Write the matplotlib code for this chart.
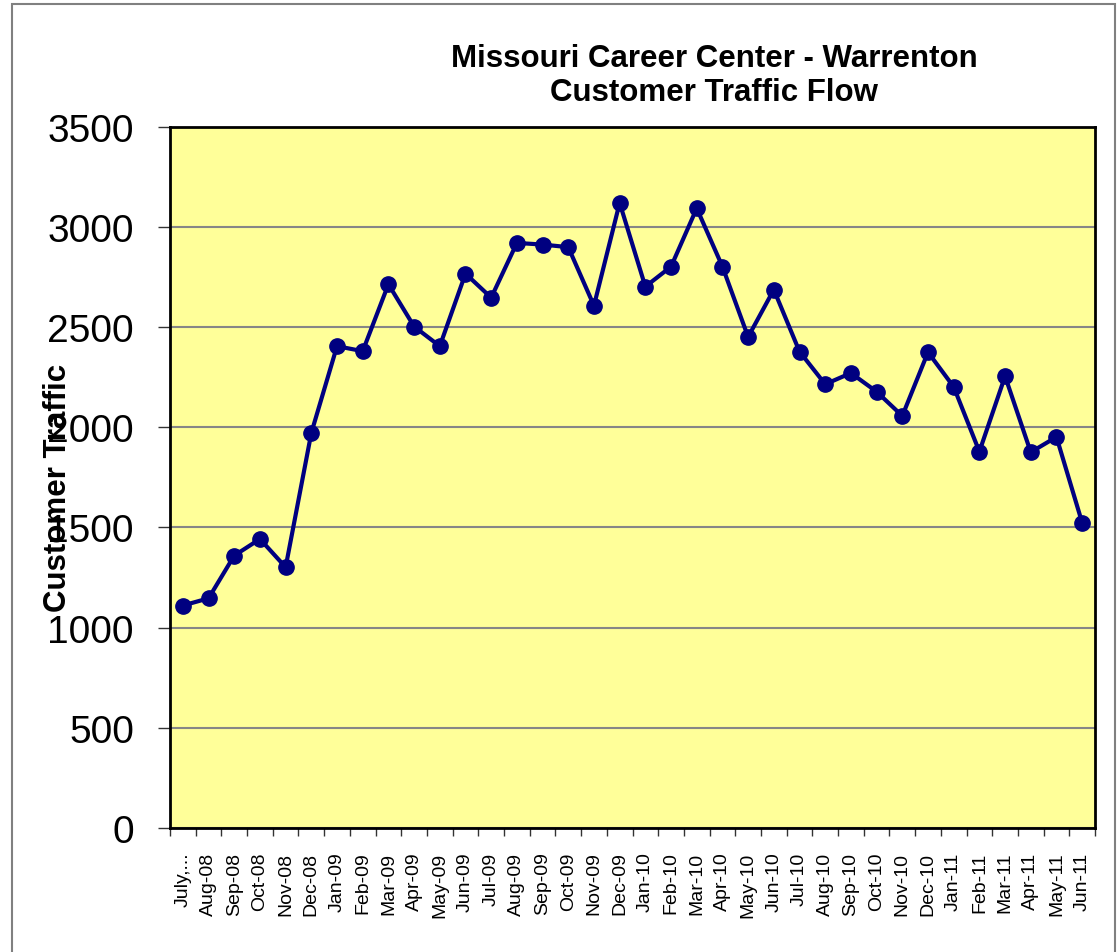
import matplotlib
matplotlib.use("Agg")
import matplotlib.pyplot as plt
from matplotlib.patches import Rectangle
import numpy as np

months = ["July,...", "Aug-08", "Sep-08", "Oct-08", "Nov-08", "Dec-08",
          "Jan-09", "Feb-09", "Mar-09", "Apr-09", "May-09", "Jun-09",
          "Jul-09", "Aug-09", "Sep-09", "Oct-09", "Nov-09", "Dec-09",
          "Jan-10", "Feb-10", "Mar-10", "Apr-10", "May-10", "Jun-10",
          "Jul-10", "Aug-10", "Sep-10", "Oct-10", "Nov-10", "Dec-10",
          "Jan-11", "Feb-11", "Mar-11", "Apr-11", "May-11", "Jun-11"]
traffic = [1110, 1146, 1359, 1442, 1301, 1971,
           2404, 2379, 2713, 2502, 2404, 2766,
           2646, 2919, 2911, 2898, 2606, 3119,
           2701, 2801, 3092, 2801, 2450, 2686,
           2377, 2214, 2270, 2177, 2056, 2374,
           2201, 1878, 2254, 1875, 1951, 1523]
yticks = [0, 500, 1000, 1500, 2000, 2500, 3000, 3500]

plt.rcParams['font.family'] = ['Liberation Sans', 'DejaVu Sans']

W, H = 1120, 953
fig = plt.figure(figsize=(W / 100, H / 100), dpi=100)
left, right, top, bottom = 170, 1095, 127.5, 829
ax = fig.add_axes([left / W, 1 - bottom / H, (right - left) / W, (bottom - top) / H])
ax.set_facecolor('#FFFF99')

x = np.arange(len(months))
ax.plot(x, traffic, color='#000080', lw=3, marker='o', markersize=11,
        markerfacecolor='#000080', markeredgecolor='#000080', zorder=3)

ax.set_xlim(-0.5, len(months) - 0.5)
ax.set_ylim(0, 3500)
ax.set_yticks(yticks)
ax.set_yticklabels([str(v) for v in yticks], fontsize=28)
ax.yaxis.grid(True, color='#868686', lw=1.5)
ax.set_axisbelow(True)
ax.tick_params(axis='y', direction='out', length=9, width=1, color='#333333', pad=17)

ax.set_xticks(x)
ax.set_xticklabels(months, rotation=90, fontsize=14, va='top')
ax.set_xticks(np.arange(len(months) + 1) - 0.5, minor=True)
ax.tick_params(axis='x', which='major', length=0, pad=17)
ax.tick_params(axis='x', which='minor', direction='out', length=6, width=1, color='#333333')

for s in ax.spines.values():
    s.set_color('black')
    s.set_linewidth(2)

ax.set_ylabel('Customer Traffic', fontsize=22.5, fontweight='bold', va='center')
ax.yaxis.set_label_coords((58 - left) / (right - left), (829 - 488) / (829 - 127.5))

fig.text(714 / W, 1 - 59 / H, 'Missouri Career Center - Warrenton', ha='center', va='center',
         fontsize=22.5, fontweight='bold')
fig.text(714 / W, 1 - 93 / H, 'Customer Traffic Flow', ha='center', va='center',
         fontsize=22.5, fontweight='bold')

fig.patches.append(Rectangle((12 / W, -0.01), (1115 - 12) / W, 1.01 - 5 / H,
                             transform=fig.transFigure, fill=False,
                             edgecolor='#808080', lw=1.5))

fig.savefig('out.png', dpi=100, facecolor='white')
